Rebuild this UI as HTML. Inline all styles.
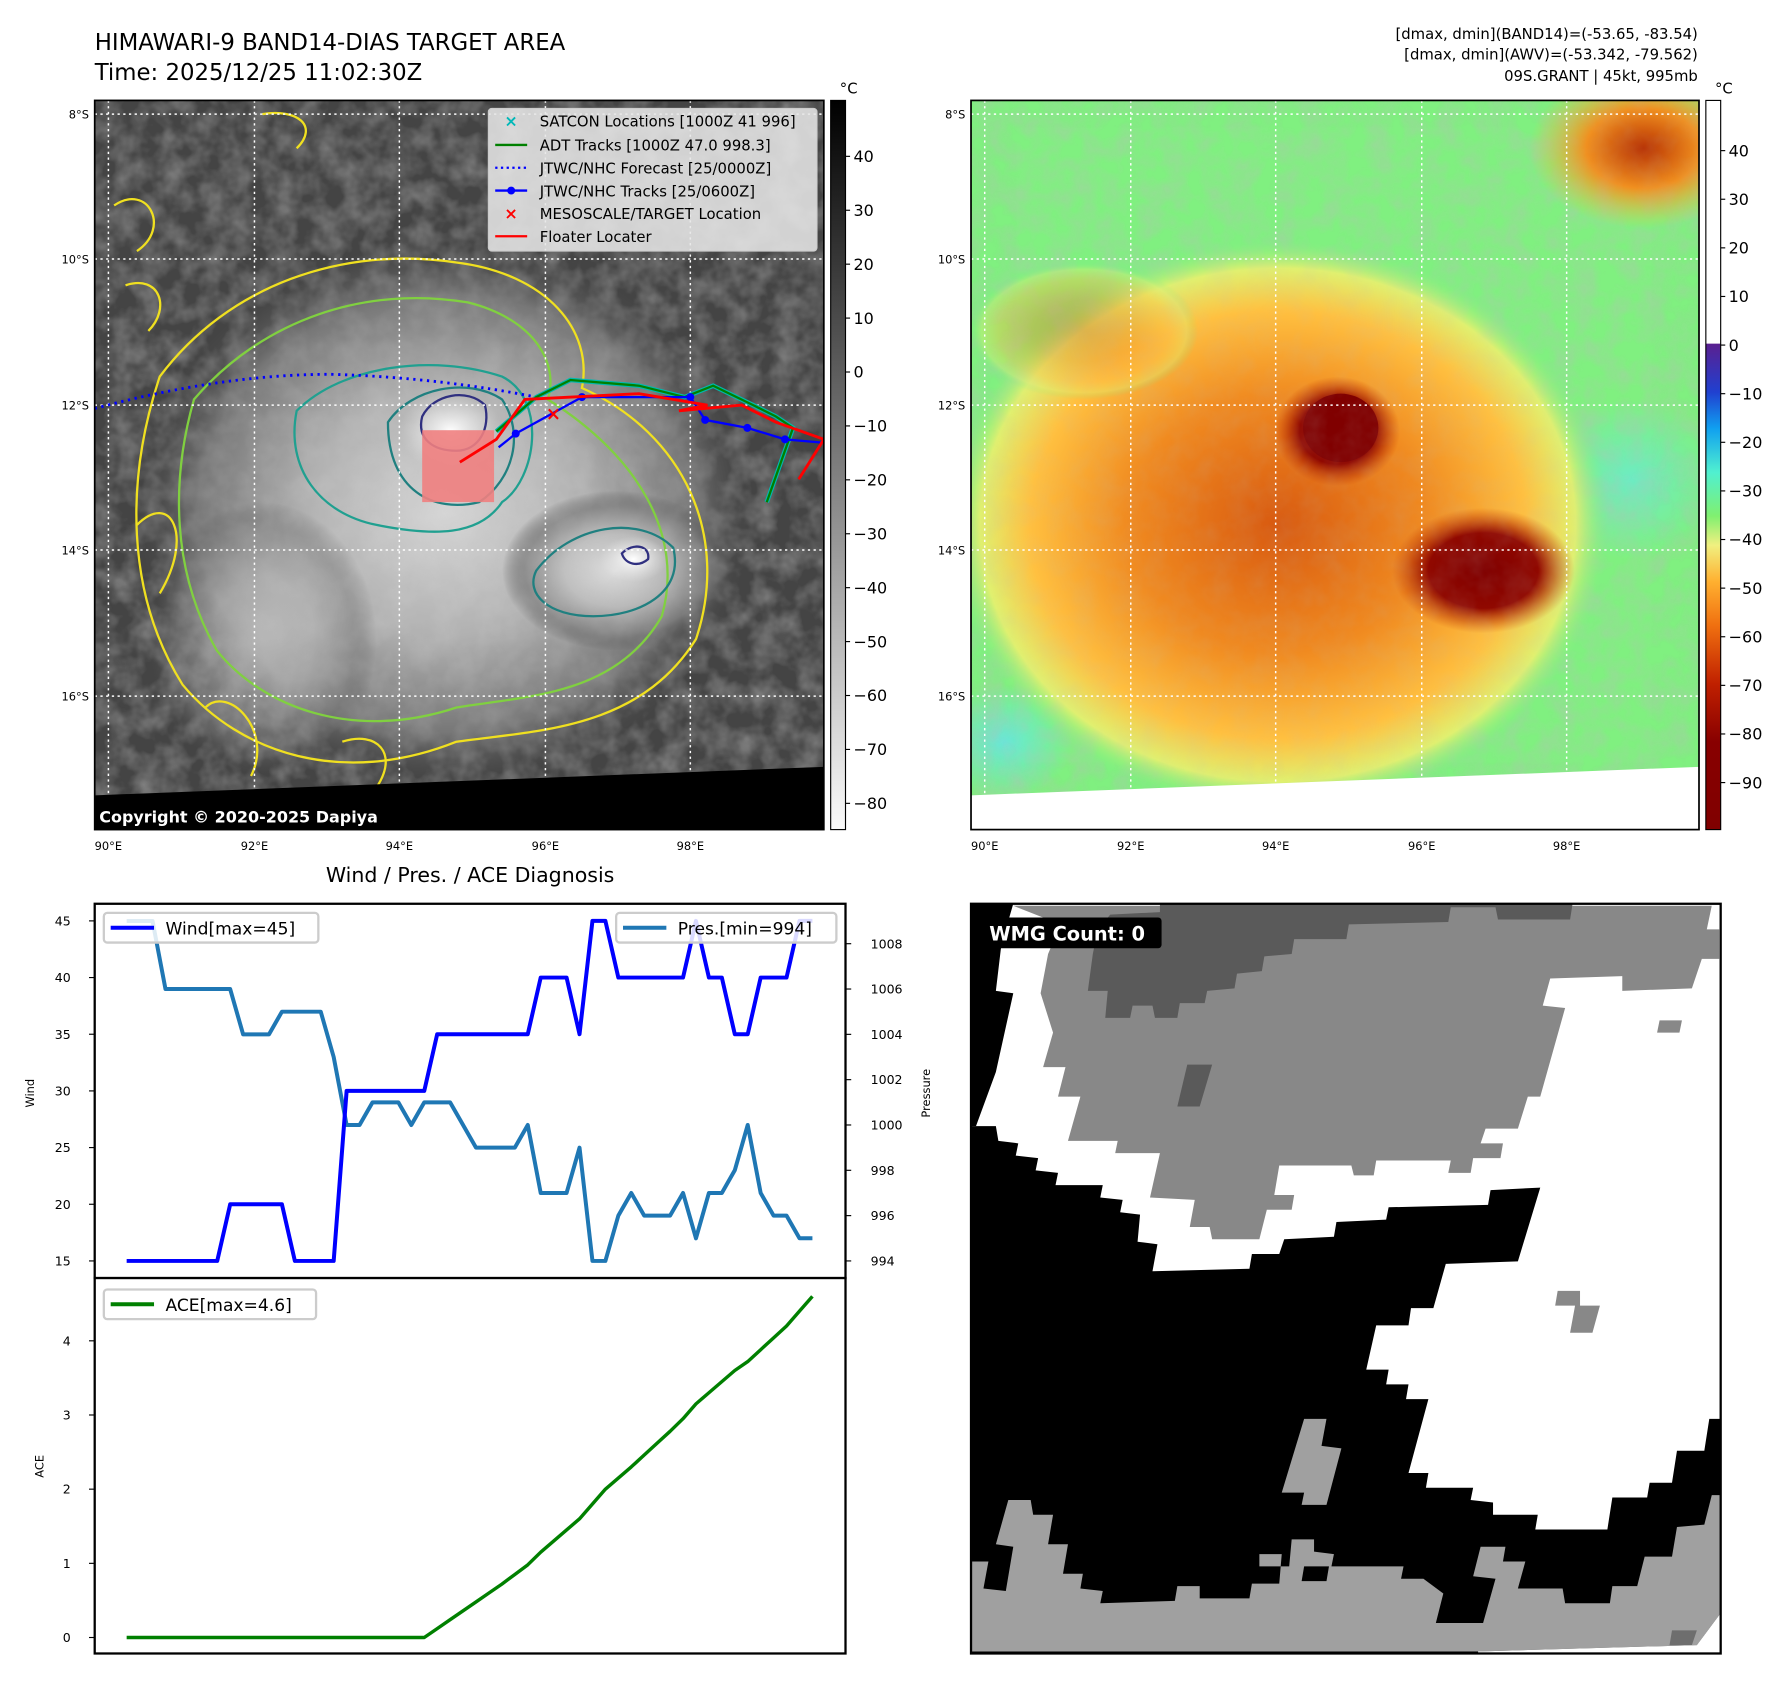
<!DOCTYPE html>
<html><head><meta charset="utf-8"><title>HIMAWARI-9 BAND14 DIAS</title>
<style>html,body{margin:0;padding:0;background:#fff}svg{display:block}text{font-family:"DejaVu Sans","Liberation Sans",sans-serif}</style>
</head><body>
<svg id="root" width="1788" height="1690" viewBox="0 0 1567 1481" preserveAspectRatio="none" xmlns="http://www.w3.org/2000/svg">
<defs>
<filter id="tex" x="0" y="0" width="100%" height="100%"><feTurbulence type="fractalNoise" baseFrequency="0.05" numOctaves="3" seed="4"/><feColorMatrix values="0 0 0 0 0.5  0 0 0 0 0.5  0 0 0 0 0.5  0 0 0 1.4 -0.45"/></filter>
<radialGradient id="cloudL" cx="0.5" cy="0.5" r="0.5"><stop offset="0" stop-color="#eeeeee"/><stop offset="0.45" stop-color="#c4c4c4"/><stop offset="0.8" stop-color="#808080"/><stop offset="1" stop-color="#4a4a4a" stop-opacity="0"/></radialGradient>
<radialGradient id="eyeL" cx="0.5" cy="0.5" r="0.5"><stop offset="0" stop-color="#fff"/><stop offset="1" stop-color="#e8e8e8" stop-opacity="0"/></radialGradient>
<radialGradient id="cloudR" cx="0.5" cy="0.5" r="0.5"><stop offset="0" stop-color="#d85a10"/><stop offset="0.45" stop-color="#f08a20"/><stop offset="0.75" stop-color="#ffc040"/><stop offset="0.9" stop-color="#e0f070"/><stop offset="1" stop-color="#80f080" stop-opacity="0"/></radialGradient>
<radialGradient id="eyeR" cx="0.5" cy="0.5" r="0.5"><stop offset="0" stop-color="#800000"/><stop offset="0.6" stop-color="#900800"/><stop offset="1" stop-color="#c03000" stop-opacity="0"/></radialGradient>
<radialGradient id="cornerR" cx="0.5" cy="0.5" r="0.5"><stop offset="0" stop-color="#b83000"/><stop offset="0.5" stop-color="#f09020"/><stop offset="1" stop-color="#f8c040" stop-opacity="0"/></radialGradient>
<radialGradient id="cyanR" cx="0.5" cy="0.5" r="0.5"><stop offset="0" stop-color="#60e8f0"/><stop offset="1" stop-color="#60e8f0" stop-opacity="0"/></radialGradient>
<linearGradient id="cbGray" x1="0" y1="0" x2="0" y2="1"><stop offset="0" stop-color="#000"/><stop offset="1" stop-color="#fafafa"/></linearGradient>
<linearGradient id="cbColor" x1="0" y1="0" x2="0" y2="1">
<stop offset="0" stop-color="#fff"/><stop offset="0.333" stop-color="#fff"/><stop offset="0.334" stop-color="#5a2090"/>
<stop offset="0.40" stop-color="#2040d0"/><stop offset="0.45" stop-color="#10a0f0"/><stop offset="0.51" stop-color="#50f0d0"/>
<stop offset="0.57" stop-color="#80f070"/><stop offset="0.61" stop-color="#f0f080"/><stop offset="0.66" stop-color="#ffb030"/>
<stop offset="0.72" stop-color="#f07010"/><stop offset="0.80" stop-color="#c02000"/><stop offset="0.88" stop-color="#880000"/><stop offset="1" stop-color="#800000"/></linearGradient>
<clipPath id="clipL"><rect x="83" y="88" width="639" height="639"/></clipPath>
<clipPath id="clipR"><rect x="851" y="88" width="638" height="639"/></clipPath>
<clipPath id="clipW"><rect x="851" y="792" width="657" height="657"/></clipPath>
</defs>

<text x="83" y="44" font-size="20">HIMAWARI-9 BAND14-DIAS TARGET AREA</text>
<text x="83" y="70" font-size="20">Time: 2025/12/25 11:02:30Z</text>
<g font-size="13" text-anchor="end">
<text x="1488" y="34">[dmax, dmin](BAND14)=(-53.65, -83.54)</text>
<text x="1488" y="52">[dmax, dmin](AWV)=(-53.342, -79.562)</text>
<text x="1488" y="71">09S.GRANT | 45kt, 995mb</text>
</g>

<g clip-path="url(#clipL)">
<rect x="83" y="88" width="639" height="639" fill="#444"/>
<rect x="83" y="88" width="639" height="639" filter="url(#tex)" opacity="0.45"/>
<ellipse cx="390" cy="450" rx="270" ry="240" fill="url(#cloudL)" opacity="0.85"/>
<ellipse cx="230" cy="560" rx="100" ry="120" fill="url(#cloudL)" opacity="0.5"/>
<ellipse cx="540" cy="500" rx="100" ry="70" fill="url(#cloudL)" opacity="0.8"/>
<rect x="83" y="88" width="639" height="639" filter="url(#tex)" opacity="0.2"/>
<ellipse cx="395" cy="378" rx="45" ry="35" fill="url(#eyeL)"/>
<ellipse cx="555" cy="490" rx="30" ry="20" fill="url(#eyeL)"/>
<g fill="none" stroke-width="2">
<path d="M140,330 C200,250 300,215 400,230 C480,240 520,290 510,340 C600,380 640,470 610,560 C560,640 470,640 400,650 C300,690 210,660 160,600 C110,520 110,420 140,330 Z" stroke="#f0e020"/>
<path d="M170,350 C230,280 320,250 410,265 C470,280 490,320 480,350 C560,400 600,470 580,540 C540,610 460,610 400,620 C310,650 230,620 190,570 C150,500 150,420 170,350 Z" stroke="#80d040"/>
<path d="M260,360 C300,320 380,310 440,330 C480,350 470,420 440,440 C420,470 380,470 330,460 C280,450 250,410 260,360 Z" stroke="#20a090"/>
<path d="M340,370 C360,340 410,330 440,350 C460,380 450,420 420,440 C380,450 340,430 340,370 Z" stroke="#208080"/>
<path d="M370,365 C380,345 410,340 425,355 C430,375 420,395 400,395 C380,395 365,385 370,365 Z" stroke="#303080"/>
<path d="M470,500 C500,460 560,450 590,480 C600,520 560,540 520,540 C480,540 460,520 470,500 Z" stroke="#208080"/>
<path d="M545,485 C555,475 570,478 568,490 C560,497 548,495 545,485 Z" stroke="#303080"/>
<path d="M120,460 C150,430 170,470 140,520 M180,620 C200,600 240,640 220,680 M300,650 C330,640 350,660 330,690 M100,180 C130,160 150,200 120,220 M230,100 C260,95 280,110 260,130 M110,250 C140,240 150,270 130,290" stroke="#f0e020"/>
</g>
<rect x="370" y="377" width="63" height="63" fill="#f08080" opacity="0.9"/>
<g stroke="#fff" stroke-width="1.3" stroke-dasharray="2,3">
<line x1="95" y1="88" x2="95" y2="727"/><line x1="223" y1="88" x2="223" y2="727"/><line x1="350" y1="88" x2="350" y2="727"/><line x1="478" y1="88" x2="478" y2="727"/><line x1="605" y1="88" x2="605" y2="727"/>
<line x1="83" y1="100" x2="722" y2="100"/><line x1="83" y1="227" x2="722" y2="227"/><line x1="83" y1="355" x2="722" y2="355"/><line x1="83" y1="482" x2="722" y2="482"/><line x1="83" y1="610" x2="722" y2="610"/>
</g>
<path d="M83,358 C150,340 220,328 290,328 C360,330 420,338 470,348" fill="none" stroke="#0000ff" stroke-width="2.5" stroke-dasharray="2,4"/>
<polyline points="435,378 470,348 500,333 560,338 600,348 625,338 660,355 680,365 695,375 672,440" fill="none" stroke="#00b8b0" stroke-width="4"/>
<polyline points="435,378 470,348 500,333 560,338 600,348 625,338 660,355 680,365 695,375 672,440" fill="none" stroke="#008000" stroke-width="2"/>
<polyline points="437,392 452,380 510,348 605,348 618,368 655,375 688,385 722,388" fill="none" stroke="#0000ff" stroke-width="2"/>
<g fill="#0000ff"><circle cx="452" cy="380" r="3.5"/><circle cx="510" cy="348" r="3.5"/><circle cx="605" cy="348" r="3.5"/><circle cx="618" cy="368" r="3.5"/><circle cx="655" cy="375" r="3.5"/><circle cx="688" cy="385" r="3.5"/></g>
<polyline points="403,405 435,385 460,350 560,345 620,355 595,360 650,355 680,370 722,385 700,420" fill="none" stroke="#ff0000" stroke-width="2.5"/>
<text x="485" y="368" fill="#ff0000" font-size="16" font-weight="bold" text-anchor="middle">×</text>
<polygon points="83,697 722,672 722,727 83,727" fill="#000"/>
</g>
<rect x="83" y="88" width="639" height="639" fill="none" stroke="#000" stroke-width="1.5"/>
<text x="87" y="721" font-size="14" font-weight="bold" fill="#fff">Copyright © 2020-2025 Dapiya</text>

<g font-size="13">
<rect x="428" y="95" width="288" height="125" rx="3" fill="#e6e6e6" fill-opacity="0.88" stroke="#ccc"/>
<text x="442" y="111" fill="#00b8b8" font-size="14" font-weight="bold">×</text><text x="473" y="111">SATCON Locations [1000Z 41 996]</text>
<line x1="434" y1="127" x2="462" y2="127" stroke="#008000" stroke-width="2"/><text x="473" y="132">ADT Tracks [1000Z 47.0 998.3]</text>
<line x1="434" y1="147" x2="462" y2="147" stroke="#0000ff" stroke-width="2" stroke-dasharray="2,3"/><text x="473" y="152">JTWC/NHC Forecast [25/0000Z]</text>
<line x1="434" y1="167" x2="462" y2="167" stroke="#0000ff" stroke-width="2"/><circle cx="448" cy="167" r="3.5" fill="#0000ff"/><text x="473" y="172">JTWC/NHC Tracks [25/0600Z]</text>
<text x="442" y="192" fill="#ff0000" font-size="14" font-weight="bold">×</text><text x="473" y="192">MESOSCALE/TARGET Location</text>
<line x1="434" y1="207" x2="462" y2="207" stroke="#ff0000" stroke-width="2"/><text x="473" y="212">Floater Locater</text>
</g>

<g font-size="10" text-anchor="end">
<text x="78" y="104">8°S</text><text x="78" y="231">10°S</text><text x="78" y="359">12°S</text><text x="78" y="486">14°S</text><text x="78" y="614">16°S</text></g>
<g font-size="10" text-anchor="middle">
<text x="95" y="745">90°E</text><text x="223" y="745">92°E</text><text x="350" y="745">94°E</text><text x="478" y="745">96°E</text><text x="605" y="745">98°E</text></g>

<g>
<rect x="728" y="88" width="13" height="639" fill="url(#cbGray)" stroke="#000"/>
<text x="736" y="82" font-size="13">°C</text>
<g id="cbLticks" font-size="14"></g>
</g>

<g clip-path="url(#clipR)">
<rect x="851" y="88" width="638" height="639" fill="#80f080"/>
<ellipse cx="880" cy="650" rx="60" ry="50" fill="url(#cyanR)" opacity="0.8"/>
<ellipse cx="1430" cy="420" rx="80" ry="70" fill="url(#cyanR)" opacity="0.6"/>
<rect x="851" y="88" width="638" height="639" filter="url(#tex)" opacity="0.35"/>
<ellipse cx="1120" cy="460" rx="290" ry="250" fill="url(#cloudR)"/>
<ellipse cx="950" cy="290" rx="100" ry="60" fill="url(#cloudR)" opacity="0.4"/>
<ellipse cx="1440" cy="130" rx="100" ry="70" fill="url(#cornerR)"/>
<ellipse cx="1300" cy="500" rx="80" ry="55" fill="url(#eyeR)"/>
<ellipse cx="1172" cy="378" rx="55" ry="48" fill="url(#eyeR)"/>
<ellipse cx="1175" cy="375" rx="33" ry="30" fill="#800000"/>
<rect x="851" y="88" width="638" height="639" filter="url(#tex)" opacity="0.15"/>
<g stroke="#fff" stroke-width="1.3" stroke-dasharray="2,3">
<line x1="863" y1="88" x2="863" y2="727"/><line x1="991" y1="88" x2="991" y2="727"/><line x1="1118" y1="88" x2="1118" y2="727"/><line x1="1246" y1="88" x2="1246" y2="727"/><line x1="1373" y1="88" x2="1373" y2="727"/>
<line x1="851" y1="100" x2="1489" y2="100"/><line x1="851" y1="227" x2="1489" y2="227"/><line x1="851" y1="355" x2="1489" y2="355"/><line x1="851" y1="482" x2="1489" y2="482"/><line x1="851" y1="610" x2="1489" y2="610"/>
</g>
<polygon points="851,697 1489,672 1489,727 851,727" fill="#fff"/>
</g>
<rect x="851" y="88" width="638" height="639" fill="none" stroke="#000" stroke-width="1.5"/>
<g font-size="10" text-anchor="end">
<text x="846" y="104">8°S</text><text x="846" y="231">10°S</text><text x="846" y="359">12°S</text><text x="846" y="486">14°S</text><text x="846" y="614">16°S</text></g>
<g font-size="10" text-anchor="middle">
<text x="863" y="745">90°E</text><text x="991" y="745">92°E</text><text x="1118" y="745">94°E</text><text x="1246" y="745">96°E</text><text x="1373" y="745">98°E</text></g>
<g>
<rect x="1495" y="88" width="13" height="639" fill="url(#cbColor)" stroke="#000"/>
<text x="1503" y="82" font-size="13">°C</text>
<g id="cbRticks" font-size="14"></g>
</g>

<text x="412" y="773" font-size="18" text-anchor="middle">Wind / Pres. / ACE Diagnosis</text>
<g id="windPanel">
<rect x="83" y="792" width="658" height="328" fill="#fff" stroke="#000" stroke-width="2"/>
<text x="30" y="958" font-size="10" transform="rotate(-90 30 958)" text-anchor="middle">Wind</text>
<text x="815" y="958" font-size="10" transform="rotate(-90 815 958)" text-anchor="middle">Pressure</text>
</g>
<g id="acePanel">
<rect x="83" y="1120" width="658" height="329" fill="#fff" stroke="#000" stroke-width="2"/>
<text x="38" y="1285" font-size="10" transform="rotate(-90 38 1285)" text-anchor="middle">ACE</text>
</g>

<g>
<rect x="851" y="792" width="657" height="657" fill="#fff"/>
<g clip-path="url(#clipW)">
<g transform="translate(851,792) scale(0.4357,0.4311) translate(-20,-8)">
<polygon fill="#888" points="105,12 1510,12 1500,60 1525,60 1525,120 1490,120 1470,180 1330,185 1330,155 1185,160 1170,215 1215,220 1165,400 1140,400 1120,465 1055,465 1045,495 1090,495 1085,525 1030,525 1025,555 980,555 985,530 835,530 830,560 790,560 785,540 640,540 630,600 670,600 665,630 615,630 600,690 505,690 500,665 460,665 470,610 380,605 400,515 310,515 315,490 215,490 240,400 195,400 210,340 165,340 185,270 160,190 175,110 200,50"/>
<polygon fill="#5a5a5a" points="400,8 1230,8 1225,40 1080,40 1075,15 985,15 980,45 780,50 775,80 670,80 665,110 610,115 605,145 555,150 550,180 495,185 490,210 440,210 435,240 390,240 385,215 345,215 340,240 290,240 295,185 255,185 265,110 275,60 300,30 400,25"/>
<polygon fill="#5a5a5a" points="455,335 505,335 480,420 435,420"/>
<polygon fill="#888" points="1405,245 1450,245 1445,270 1400,270"/>
<polygon fill="#000" points="20,8 105,8 90,60 80,100 70,185 105,190 70,350 30,460 20,460"/>
<polygon fill="#000" points="20,460 70,460 75,490 115,495 110,520 155,525 150,550 195,555 190,580 285,580 280,605 325,610 320,635 360,640 355,695 395,700 385,755 580,750 585,720 640,720 650,690 750,685 755,655 855,650 860,625 1060,620 1065,590 1165,585 1120,735 975,740 950,830 905,830 900,865 835,865 815,955 860,955 855,985 900,985 895,1015 940,1015 900,1165 940,1165 935,1195 1030,1195 1025,1220 1070,1225 1070,1250 1160,1250 1155,1280 1300,1280 1310,1215 1380,1215 1385,1185 1430,1185 1440,1120 1495,1120 1505,1055 1528,1055 1528,1532 20,1532"/>
<polygon fill="#888" points="1200,795 1245,795 1245,825 1285,825 1270,880 1225,880 1235,825 1195,825"/>
<polygon fill="#a0a0a0" points="690,1055 735,1055 725,1110 765,1115 735,1230 685,1230 690,1205 645,1205"/>
<polygon fill="#a0a0a0" points="20,1345 55,1345 45,1400 90,1405 105,1315 70,1310 95,1220 140,1220 145,1250 185,1250 175,1310 215,1310 205,1370 245,1370 240,1400 285,1405 280,1430 430,1425 435,1395 480,1395 480,1420 580,1420 585,1390 640,1390 645,1330 600,1330 600,1355 660,1355 665,1300 710,1300 710,1325 750,1330 745,1355 890,1355 885,1380 930,1380 970,1410 955,1470 1050,1470 1075,1380 1030,1375 1045,1315 1095,1315 1090,1345 1135,1345 1120,1400 1210,1400 1215,1430 1305,1430 1310,1395 1360,1395 1375,1335 1430,1335 1440,1275 1495,1270 1510,1210 1528,1210 1528,1450 1480,1515 1040,1528 20,1528"/>
<polygon fill="#000" points="690,1355 740,1355 735,1385 685,1385"/>
<polygon fill="#6e6e6e" points="1430,1485 1480,1485 1470,1515 1425,1515"/>
<polygon fill="#fff" points="1510,12 1528,12 1528,55 1505,55"/>
<polygon fill="#fff" points="1480,1515 1528,1450 1528,1532 1040,1532 1040,1528"/>
</g>
</g>
<rect x="851" y="792" width="657" height="657" fill="none" stroke="#000" stroke-width="2"/>
<rect x="860" y="804" width="158" height="27" rx="3" fill="#000"/>
<text x="867" y="824" font-size="17" font-weight="bold" fill="#fff">WMG Count: 0</text>
</g>

<script>
const windValues=[15,15,15,15,15,15,15,15,20,20,20,20,20,15,15,15,15,30,30,30,30,30,30,30,35,35,35,35,35,35,35,35,40,40,40,35,45,45,40,40,40,40,40,40,45,40,40,35,35,40,40,40,45,45];
const presValues=[1009,1009,1009,1006,1006,1006,1006,1006,1006,1004,1004,1004,1005,1005,1005,1005,1003,1000,1000,1001,1001,1001,1000,1001,1001,1001,1000,999,999,999,999,1000,997,997,997,999,994,994,996,997,996,996,996,997,995,997,997,998,1000,997,996,996,995,995];
const aceValues=[0,0,0,0,0,0,0,0,0,0,0,0,0,0,0,0,0,0,0,0,0,0,0,0,0.12,0.24,0.36,0.48,0.6,0.72,0.85,0.98,1.15,1.3,1.45,1.6,1.8,2.0,2.15,2.3,2.46,2.62,2.78,2.95,3.15,3.3,3.45,3.6,3.72,3.88,4.04,4.2,4.4,4.6];
const windTicks=[15,20,25,30,35,40,45];
const presTicks=[994,996,998,1000,1002,1004,1006,1008];
const aceTicks=[0,1,2,3,4];
const irTicks=[40,30,20,10,0,-10,-20,-30,-40,-50,-60,-70,-80];
const awvTicks=[40,30,20,10,0,-10,-20,-30,-40,-50,-60,-70,-80,-90];

const NS='http://www.w3.org/2000/svg';
function xScale(i){return 111+i*(601/53);}
function yWind(v){return 1105-(v-15)*(298/30);}
function yPres(v){return 1105-(v-994)*(278/14);}
function yAce(v){return 1435-v*65;}
function yIR(v){return 137+(40-v)*4.725;}
function yAWV(v){return 132+(40-v)*4.26;}
function mk(tag,attrs,parent){const e=document.createElementNS(NS,tag);for(const k in attrs)e.setAttribute(k,attrs[k]);parent.appendChild(e);return e;}
const wp=document.getElementById('windPanel'),ap=document.getElementById('acePanel');

windTicks.forEach(t=>{const y=yWind(t);
 const l=mk('line',{x1:78,x2:83,y1:y,y2:y,stroke:'#000'},wp);
 
 
 const tx=mk('text',{x:62,y:y+4,'font-size':11,'text-anchor':'end'},wp);tx.textContent=t;
 
 });
presTicks.forEach(t=>{const y=yPres(t);
 const l=mk('line',{x1:741,x2:746,y1:y,y2:y,stroke:'#000'},wp);
 
 
 const tx=mk('text',{x:763,y:y+4,'font-size':11},wp);tx.textContent=t;
 
 });
aceTicks.forEach(t=>{const y=yAce(t);
 const l=mk('line',{x1:78,x2:83,y1:y,y2:y,stroke:'#000'},ap);
 
 
 const tx=mk('text',{x:62,y:y+4,'font-size':11,'text-anchor':'end'},ap);tx.textContent=t;
 
 });

const pres=mk('polyline',{points:presValues.map((v,i)=>xScale(i)+','+yPres(v)).join(' '),fill:'none',stroke:'#1f77b4',"stroke-width":3.5,"stroke-linejoin":'round'},wp);


const wind=mk('polyline',{points:windValues.map((v,i)=>xScale(i)+','+yWind(v)).join(' '),fill:'none',stroke:'#0000ff',"stroke-width":3.5,"stroke-linejoin":'round'},wp);


const ace=mk('polyline',{points:aceValues.map((v,i)=>xScale(i)+','+yAce(v)).join(' '),fill:'none',stroke:'#008000',"stroke-width":3,"stroke-linejoin":'round'},ap);



function legend(parent,x,y,w,color,label,name){
 const g=mk('g',{},parent);
 
 
 mk('rect',{x:x,y:y,width:w,height:26,rx:3,fill:'#fff','fill-opacity':0.85,stroke:'#ccc','stroke-width':2},g);
 mk('line',{x1:x+6,x2:x+44,y1:y+13,y2:y+13,stroke:color,'stroke-width':3.5},g);
 const t=mk('text',{x:x+54,y:y+19,'font-size':15},g);t.textContent=label;}
legend(wp,91,800,188,'#0000ff','Wind[max=45]','wind-legend');
legend(wp,540,800,193,'#1f77b4','Pres.[min=994]','pressure-legend');
legend(ap,91,1130,186,'#008000','ACE[max=4.6]','ace-legend');

const cl=document.getElementById('cbLticks'),cr=document.getElementById('cbRticks');
irTicks.forEach(t=>{const y=yIR(t);
 mk('line',{x1:741,x2:745,y1:y,y2:y,stroke:'#000'},cl);
 const tx=mk('text',{x:748,y:y+5},cl);tx.textContent=t<0?'\u2212'+(-t):t;
 
 });
awvTicks.forEach(t=>{const y=yAWV(t);
 mk('line',{x1:1508,x2:1512,y1:y,y2:y,stroke:'#000'},cr);
 const tx=mk('text',{x:1515,y:y+5},cr);tx.textContent=t<0?'\u2212'+(-t):t;
 
 });
</script>
</svg>
</body></html>
